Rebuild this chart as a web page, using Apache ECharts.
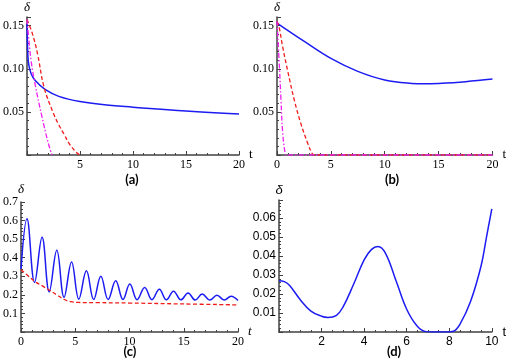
<!DOCTYPE html>
<html>
<head>
<meta charset="utf-8">
<title>delta(t)</title>
<script src="https://cdn.jsdelivr.net/npm/echarts@6/dist/echarts.min.js"></script>
<style>html,body{margin:0;padding:0;background:#fff;}</style>
</head>
<body>
<div id="chart" style="width:507px;height:360px;"></div>
<script>
// panel (a)
var aBlue = [[0,0.152],[0.05,0.126],[0.15,0.106],[0.4,0.094],[0.8,0.086],[1.7,0.076],[3,0.068],[5,0.062],[7.5,0.058],[10,0.0555],[15,0.051],[20,0.0475]];
var aRed = [[0,0.157],[0.5,0.141],[1,0.117],[1.6,0.079],[2.5,0.048],[3,0.035],[3.5,0.024],[4,0.013],[4.5,0.005],[4.85,0.001],[5.05,0]];
var aMag = [[0,0.157],[0.17,0.134],[0.4,0.108],[0.78,0.081],[1.4,0.045],[2.0,0.014],[2.35,0]];
// panel (b)
var bBlue = [[0,0.153],[2.5,0.132],[5,0.112],[7.5,0.097],[10,0.087],[12.5,0.083],[13.7,0.0825],[15,0.083],[17.5,0.085],[20,0.088]];
var bRed = [[0,0.155],[0.2,0.148],[0.5,0.127],[1,0.097],[1.6,0.064],[2.2,0.037],[2.84,0.014],[3.3,0.001],[3.5,0],[20,0]];
var bMag = [[0,0.155],[0.22,0.103],[0.37,0.064],[0.52,0.027],[0.74,0.003],[0.85,0],[20,0]];
// panel (c)
var cBlue = [[0,0.34],[0.55,0.61],[1.25,0.267],[1.94,0.51],[2.6,0.216],[3.3,0.44],[3.97,0.187],[4.66,0.377],[5.33,0.177],[6.03,0.33],[6.7,0.175],[7.36,0.30],[8.03,0.175],[8.73,0.276],[9.4,0.175],[10.03,0.258],[10.7,0.174],[11.4,0.24],[12.07,0.174],[12.75,0.23],[13.4,0.173],[14.06,0.22],[14.74,0.173],[15.4,0.21],[16.06,0.172],[16.7,0.204],[17.4,0.172],[18.06,0.198],[18.74,0.172],[19.36,0.193],[20,0.17]];
var cRed = [[0,0.335],[0.6,0.305],[1.27,0.272],[2,0.247],[2.6,0.226],[3.3,0.2],[4,0.175],[4.6,0.163],[5.3,0.159],[7,0.158],[10,0.156],[15,0.151],[20,0.146]];
// panel (d)
var dBlue = [[0,0.027],[0.25,0.0265],[0.5,0.0245],[1,0.017],[1.5,0.011],[2,0.0083],[2.3,0.0077],[2.7,0.0088],[3,0.013],[3.5,0.025],[4,0.038],[4.35,0.0435],[4.65,0.045],[5,0.0415],[5.5,0.027],[6,0.012],[6.5,0.003],[6.9,0.0002],[7.2,0],[7.9,0],[8.2,0.0004],[8.5,0.004],[9,0.016],[9.5,0.035],[9.75,0.05],[10,0.0648]];

var panelLabels = ['(a)', '(b)', '(c)', '(d)'];

var BLUE = '#1c1cf2', RED = '#f01c1c', MAG = '#f01ef0', AXIS = '#404040';
var SERIF = 'Liberation Serif', SANS = 'Liberation Sans';

function tickFmt(step, digits, maxShown) {
  return function (v) {
    if (v <= 0 || v > maxShown + 1e-9) return '';
    var k = v / step;
    if (Math.abs(k - Math.round(k)) > 1e-6) return '';
    return v.toFixed(digits);
  };
}

function xAx(grid, max, interval, minorSplit, font, showZero, nameItalic) {
  return {
    type: 'value', gridIndex: grid, min: 0, max: max, interval: interval,
    name: 't', nameLocation: 'end', nameGap: 6,
    nameTextStyle: { fontFamily: font, fontSize: 13, fontStyle: nameItalic ? 'italic' : 'normal', color: '#000' },
    axisLine: { show: true, lineStyle: { color: AXIS, width: 1.5 } },
    axisTick: { show: true, inside: true, length: 4, lineStyle: { color: AXIS } },
    minorTick: { show: true, splitNumber: minorSplit, length: 2, lineStyle: { color: AXIS } },
    splitLine: { show: false },
    axisLabel: { fontFamily: font, fontSize: 12, color: '#000', margin: 4,
      formatter: function (v) { return (v === 0 && !showZero) ? '' : String(v); } }
  };
}

function yAx(grid, max, interval, minorSplit, font, digits, maxShown) {
  return {
    type: 'value', gridIndex: grid, min: 0, max: max, interval: interval,
    name: 'δ', nameLocation: 'end', nameGap: 3,
    nameTextStyle: { fontFamily: font, fontSize: 13, fontStyle: 'italic', color: '#000' },
    axisLine: { show: true, lineStyle: { color: AXIS, width: 1.5 } },
    axisTick: { show: true, inside: true, length: 4, lineStyle: { color: AXIS } },
    minorTick: { show: true, splitNumber: minorSplit, length: 2, lineStyle: { color: AXIS } },
    splitLine: { show: false },
    axisLabel: { fontFamily: font, fontSize: 12, color: '#000', margin: 3,
      formatter: tickFmt(interval, digits, maxShown) }
  };
}

function line(grid, data, color, type, width) {
  return {
    type: 'line', xAxisIndex: grid, yAxisIndex: grid, data: data,
    showSymbol: false, smooth: 0.4, clip: true,
    lineStyle: { color: color, width: width || 1.5, type: type || 'solid' }
  };
}

var DASH = [4, 2.5], DASHDOT = [5, 2, 1.5, 2];
var LABEL_FONT = 'bold 13px Lato, "Open Sans", sans-serif';

var option = {
  animation: false,
  backgroundColor: '#fff',
  grid: [
    { left: 25, top: 17, width: 214, height: 138 },
    { left: 277, top: 17, width: 216, height: 138 },
    { left: 17, top: 202, width: 221, height: 130 },
    { left: 279, top: 200, width: 215, height: 132 }
  ],
  xAxis: [
    xAx(0, 20, 5, 5, SERIF, false, false),
    xAx(1, 20, 5, 5, SERIF, true, false),
    xAx(2, 20, 5, 5, SERIF, true, true),
    xAx(3, 10, 2, 4, SANS, false, false)
  ],
  yAxis: [
    yAx(0, 0.16, 0.05, 5, SERIF, 2, 0.15),
    yAx(1, 0.16, 0.05, 5, SERIF, 2, 0.15),
    yAx(2, 0.7, 0.1, 5, SERIF, 1, 0.7),
    yAx(3, 0.0695, 0.01, 5, SANS, 2, 0.06)
  ],
  series: [
    line(0, aBlue, BLUE), line(0, aRed, RED, DASH, 1.3), line(0, aMag, MAG, DASHDOT, 1.3),
    line(1, bBlue, BLUE), line(1, bRed, RED, DASH, 1.3), line(1, bMag, MAG, DASHDOT, 1.3),
    line(2, cBlue, BLUE), line(2, cRed, RED, DASH, 1.3),
    line(3, dBlue, BLUE)
  ],
  graphic: [
    { type: 'text', x: 132, y: 180, style: { text: panelLabels[0], align: 'center', verticalAlign: 'middle', font: LABEL_FONT, fill: '#000' } },
    { type: 'text', x: 392, y: 180, style: { text: panelLabels[1], align: 'center', verticalAlign: 'middle', font: LABEL_FONT, fill: '#000' } },
    { type: 'text', x: 130, y: 352, style: { text: panelLabels[2], align: 'center', verticalAlign: 'middle', font: LABEL_FONT, fill: '#000' } },
    { type: 'text', x: 394, y: 352, style: { text: panelLabels[3], align: 'center', verticalAlign: 'middle', font: LABEL_FONT, fill: '#000' } }
  ]
};

var myChart = echarts.init(document.getElementById('chart'));
myChart.setOption(option);
</script>
</body>
</html>
